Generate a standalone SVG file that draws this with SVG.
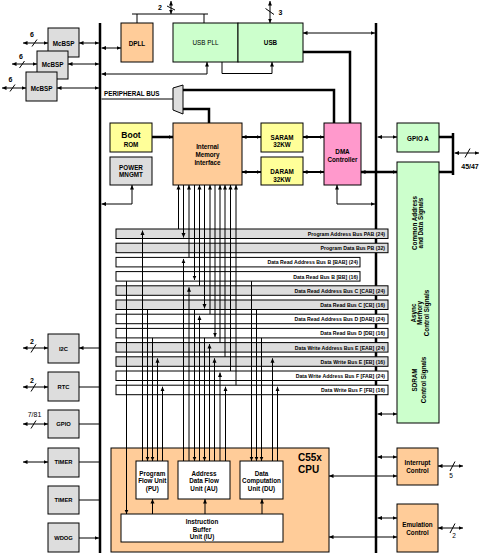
<svg xmlns="http://www.w3.org/2000/svg" width="487" height="560" viewBox="0 0 487 560">
<defs>
<marker id="ah" viewBox="0 0 6 6" refX="6" refY="3" markerWidth="4.5" markerHeight="4.5" markerUnits="userSpaceOnUse" orient="auto-start-reverse"><path d="M0,0.3L6,3L0,5.7z" fill="#000"/></marker>
</defs>
<style>
text{font-family:'Liberation Sans',Arial,sans-serif;font-weight:bold;font-size:6.3px;text-anchor:middle;fill:#000}
.bx{stroke:#000;stroke-width:1}
.pe{fill:#ffcc99}.gr{fill:#ccffcc}.ye{fill:#ffff99}.pk{fill:#ff99cc}.gy{fill:#dddddd}.wh{fill:#ffffff}
.l{fill:none;stroke:#000;stroke-width:1}
.t{fill:none;stroke:#000;stroke-width:2.5}
.m{fill:none;stroke:#000;stroke-width:2}
.a2{marker-start:url(#ah);marker-end:url(#ah)}
.ae{marker-end:url(#ah)}
.bus text{font-size:5.2px;text-anchor:end}
.lbl{font-size:7px}
.reg{font-weight:normal}
</style>
<rect width="487" height="560" fill="#ffffff"/>

<g id="backbones">
<path class="t" d="M100,23V553M376,23V553"/>
</g>

<g id="mcbsp1"><rect class="bx gy" x="48" y="28" width="31" height="29"/><text x="63.5" y="45.5">McBSP</text></g>
<g id="mcbsp2"><rect class="bx gy" x="37" y="51" width="31" height="28"/><text x="52.5" y="67">McBSP</text></g>
<g id="mcbsp3"><rect class="bx gy" x="26" y="72" width="31" height="29"/><text x="41.5" y="90.5">McBSP</text></g>

<g id="dpll"><rect class="bx pe" x="121" y="23" width="32" height="39"/><text x="137" y="45.5">DPLL</text></g>
<g id="usbpll"><rect class="bx gr" x="173" y="23" width="65" height="39"/><text class="reg" x="205.5" y="45">USB PLL</text></g>
<g id="usb"><rect class="bx gr" x="238" y="23" width="65" height="39"/><text x="270.5" y="45.3">USB</text></g>

<g id="mux"><polygon class="bx gy" points="173,88 183,85 183,114 173,110"/><text x="104" y="96" text-anchor="start" style="text-anchor:start">PERIPHERAL BUS</text></g>

<g id="bootrom"><rect class="bx ye" x="110" y="123" width="42" height="29"/><text x="131" y="138" style="font-size:8.5px">Boot</text><text x="131" y="147.3">ROM</text></g>
<g id="power"><rect class="bx gy" x="110" y="157" width="42" height="28"/><text x="131" y="170">POWER</text><text x="131" y="177.3">MNGMT</text></g>
<g id="memif"><rect class="bx pe" x="173" y="123" width="69" height="62"/><text x="207.5" y="149.3">Internal</text><text x="207.5" y="156.8">Memory</text><text x="207.5" y="164.5">Interface</text></g>
<g id="saram"><rect class="bx ye" x="261" y="123" width="42" height="29"/><text x="282" y="140.3">SARAM</text><text x="282" y="147.3">32KW</text></g>
<g id="daram"><rect class="bx ye" x="261" y="157" width="42" height="28"/><text x="282" y="174.3">DARAM</text><text x="282" y="181.5">32KW</text></g>
<g id="dma"><rect class="bx pk" x="324" y="123" width="37" height="62"/><text x="342.5" y="154">DMA</text><text x="342.5" y="161.7">Controller</text></g>
<g id="gpioa"><rect class="bx gr" x="397" y="123" width="42" height="29"/><text x="418" y="140.5">GPIO A</text></g>
<g id="emif"><rect class="bx gr" x="397" y="162" width="42" height="261"/>
<text transform="translate(416.5,223) rotate(-90)">Common Address</text>
<text transform="translate(423,223) rotate(-90)">and Data Signals</text>
<text transform="translate(416,313) rotate(-90)">Async</text>
<text transform="translate(422,313) rotate(-90)">Memory</text>
<text transform="translate(428.5,313) rotate(-90)">Control Signals</text>
<text transform="translate(416.5,380) rotate(-90)">SDRAM</text>
<text transform="translate(425.5,380) rotate(-90)">Control Signals</text>
</g>
<g id="interrupt"><rect class="bx pe" x="397" y="448" width="41" height="37"/><text x="417.5" y="465">Interrupt</text><text x="417.5" y="473.3">Control</text></g>
<g id="emulation"><rect class="bx pe" x="397" y="504" width="41" height="48"/><text x="417.5" y="527">Emulation</text><text x="417.5" y="535">Control</text></g>

<g id="i2c"><rect class="bx gy" x="48" y="334" width="31" height="29"/><text x="63.5" y="350.5" style="font-size:5.8px">I2C</text></g>
<g id="rtc"><rect class="bx gy" x="48" y="372" width="31" height="29"/><text x="63.5" y="389" style="font-size:5.8px">RTC</text></g>
<g id="gpio"><rect class="bx gy" x="48" y="410" width="31" height="28"/><text x="63.5" y="426" style="font-size:5.8px">GPIO</text></g>
<g id="timer1"><rect class="bx gy" x="48" y="448" width="31" height="29"/><text x="63.5" y="464.3" style="font-size:5.8px">TIMER</text></g>
<g id="timer2"><rect class="bx gy" x="48" y="486" width="31" height="28"/><text x="63.5" y="502.3" style="font-size:5.8px">TIMER</text></g>
<g id="wdog"><rect class="bx gy" x="48" y="523" width="31" height="29"/><text x="63.5" y="540.3" style="font-size:5.8px">WDOG</text></g>

<g id="cpu"><rect class="bx pe" x="111" y="448" width="218" height="104"/><text x="298" y="460.5" style="font-size:10px;text-anchor:start">C55x</text><text x="298" y="472.5" style="font-size:10px;text-anchor:start">CPU</text></g>
<g id="pu"><rect class="bx wh" x="136" y="461" width="32" height="38"/><text x="152.3" y="475.7">Program</text><text x="152.3" y="483.3">Flow Unit</text><text x="152.3" y="490.8">(PU)</text></g>
<g id="au"><rect class="bx wh" x="178" y="461" width="52" height="38"/><text x="204" y="475.7">Address</text><text x="204" y="483.3">Data Flow</text><text x="204" y="490.8">Unit (AU)</text></g>
<g id="du"><rect class="bx wh" x="240" y="461" width="43" height="38"/><text x="261.5" y="475.7">Data</text><text x="261.5" y="483.3">Computation</text><text x="261.5" y="490.8">Unit (DU)</text></g>
<g id="iu"><rect class="bx wh" x="121" y="514" width="162" height="28"/><text x="202" y="524">Instruction</text><text x="202" y="531.7">Buffer</text><text x="202" y="538.8">Unit (IU)</text></g>

<g id="internal-buses" class="bus">
<rect class="bx gy" x="116" y="229" width="272" height="9.5"/><text x="385" y="236">Program Address Bus PAB (24)</text>
<rect class="bx gy" x="116" y="243.2" width="272" height="9.5"/><text x="385" y="250.2">Program Data Bus PB (32)</text>
<rect class="bx wh" x="116" y="257.4" width="244" height="9.5"/><text x="358" y="264.4">Data Read Address Bus B [BAB] (24)</text>
<rect class="bx wh" x="116" y="271.6" width="244" height="9.5"/><text x="358" y="278.6">Data Read Bus B [BB] (16)</text>
<rect class="bx gy" x="116" y="285.8" width="272" height="9.5"/><text x="385" y="292.8">Data Read Address Bus C [CAB] (24)</text>
<rect class="bx gy" x="116" y="300" width="272" height="9.5"/><text x="385" y="307">Data Read Bus C [CB] (16)</text>
<rect class="bx wh" x="116" y="314.2" width="272" height="9.5"/><text x="385" y="321.2">Data Read Address Bus D [DAB] (24)</text>
<rect class="bx wh" x="116" y="328.4" width="272" height="9.5"/><text x="385" y="335.4">Data Read Bus D [DB] (16)</text>
<rect class="bx gy" x="116" y="342.6" width="272" height="9.5"/><text x="385" y="349.6">Data Write Address Bus E [EAB] (24)</text>
<rect class="bx gy" x="116" y="356.8" width="272" height="9.5"/><text x="385" y="363.8">Data Write Bus E [EB] (16)</text>
<rect class="bx wh" x="116" y="371" width="272" height="9.5"/><text x="385" y="378">Data Write Address Bus F [FAB] (24)</text>
<rect class="bx wh" x="116" y="385.2" width="272" height="9.5"/><text x="385" y="392.2">Data Write Bus F [FB] (16)</text>
</g>

<g id="connectors">
<!-- McBSP -->
<path class="l a2" d="M79,43H99"/>
<path class="l a2" d="M68,64H99"/>
<path class="l a2" d="M57,88H99"/>
<path class="l a2" d="M23,43H48"/><path class="l" d="M32,46.5L37,39.5"/><text class="lbl" x="32" y="37.3">6</text>
<path class="l a2" d="M12,64H37"/><path class="l" d="M19.5,68L24.5,61"/><text class="lbl" x="21" y="59.3">6</text>
<path class="l a2" d="M2,88H26"/><path class="l" d="M10,91.5L15,84.5"/><text class="lbl" x="10.5" y="82">6</text>
<!-- top -->
<path class="l a2" d="M101.5,48H121"/>
<path class="l" d="M132,14H208M137,14V23M204,14V23"/>
<path class="l a2" d="M171,1V14"/><path class="l" d="M167,6L175,10"/><text class="lbl" x="160" y="10">2</text>
<path class="l a2" d="M270,1V23"/><path class="l" d="M265.5,8.5L274,14.5"/><text class="lbl" x="280.5" y="15">3</text>
<path class="l a2" d="M101.5,74H207V62"/>
<path class="l ae" d="M222,62V73.5H272V62"/>
<path class="l a2" d="M303,33H375"/>
<path class="t" d="M303,52H350V123"/>
<path class="t" d="M183,90H334V123"/>
<path class="t" d="M183,109H209V123"/>
<path class="l" d="M101.5,99H173"/>
<!-- memory area -->
<path class="t ae" d="M152,137H173"/>
<path class="m a2" d="M242,137H261"/>
<path class="m a2" d="M242,172H261"/>
<path class="m a2" d="M303,137H324"/>
<path class="m a2" d="M303,172H324"/>
<path class="t a2" d="M361,172H397"/>
<path class="l a2" d="M101.5,204H132V185"/>
<path class="l a2" d="M337,185V204H375"/>
<!-- right side -->
<path class="l a2" d="M377.5,137H397"/>
<path class="t" d="M439,137H453M439,172H453M453,133V175"/>
<path class="l a2" d="M454.5,153H479"/><path class="l" d="M465,157.5L470,148.5"/><text x="470" y="168.5" style="font-size:7px">45/47</text>
<path class="l a2" d="M377.5,414H397"/>
<path class="l a2" d="M377.5,457H397"/>
<path class="l a2" d="M329,476H397"/>
<path class="l a2" d="M438,466H463"/><path class="l" d="M450,471L455,461.5"/><text class="reg" x="451" y="477.5" style="font-size:6.5px">5</text>
<path class="l a2" d="M377.5,518H397"/>
<path class="l a2" d="M329,537H397"/>
<path class="l a2" d="M438,528H463"/><path class="l" d="M450,533L455,523.5"/><text class="reg" x="454" y="538" style="font-size:6.5px">2</text>
<!-- left peripherals -->
<path class="l a2" d="M79,348H99M79,387H99M79,424H99M79,462H99M79,500H99M79,538H99"/>
<path class="l a2" d="M23,348H48"/><path class="l" d="M31,352.5L36,344.5"/><text class="lbl" x="32" y="344">2</text>
<path class="l a2" d="M23,387H48"/><path class="l" d="M31,391.5L36,383.5"/><text class="lbl" x="32" y="383">2</text>
<path class="l a2" d="M23,424H48"/><path class="l" d="M31,428.5L36,420.5"/><text class="reg" x="34.5" y="416.7" style="font-size:7px">7/81</text>
<path class="l a2" d="M23,462H48"/>
<!-- memory to internal buses -->
<path class="l ae" d="M178.5,229V185"/>
<path class="l ae" d="M189,257.4V185"/>
<path class="l ae" d="M199.5,285.8V185"/>
<path class="l ae" d="M210,314.2V185"/>
<path class="l ae" d="M220,342.6V185"/>
<path class="l ae" d="M225,356.8V185"/>
<path class="l ae" d="M230.5,371V185"/>
<path class="l ae" d="M236,385.2V185"/>
<path class="l ae" d="M183.5,185V237.5"/>
<path class="l ae" d="M194.5,185V280"/>
<path class="l ae" d="M204.5,185V308.5"/>
<path class="l ae" d="M215,185V337"/>
<!-- CPU to internal buses -->
<path class="l ae" d="M126.5,281.1V514"/>
<path class="l ae" d="M142.5,461V230.5"/>
<path class="l ae" d="M147.5,309.5V461"/>
<path class="l ae" d="M152.5,337.9V461"/>
<path class="l ae" d="M157.5,461V358.3"/>
<path class="l ae" d="M162.5,461V386.7"/>
<path class="l ae" d="M183.5,461V258.9"/>
<path class="l ae" d="M189,461V287.3"/>
<path class="l ae" d="M194.5,309.5V461"/>
<path class="l ae" d="M199.5,461V315.7"/>
<path class="l ae" d="M204.5,337.9V461"/>
<path class="l ae" d="M209.5,461V344.1"/>
<path class="l ae" d="M214.5,461V358.3"/>
<path class="l ae" d="M220,461V372.5"/>
<path class="l ae" d="M225.5,461V386.7"/>
<path class="l ae" d="M251.5,281.1V461"/>
<path class="l ae" d="M256.5,309.5V461"/>
<path class="l ae" d="M261.5,337.9V461"/>
<path class="l ae" d="M272.5,461V358.3"/>
<path class="l ae" d="M277.5,461V386.7"/>
<!-- IU to units -->
<path class="l ae" d="M152.5,514V499"/>
<path class="l ae" d="M205,514V499"/>
<path class="l ae" d="M262,514V499"/>
</g>
</svg>
